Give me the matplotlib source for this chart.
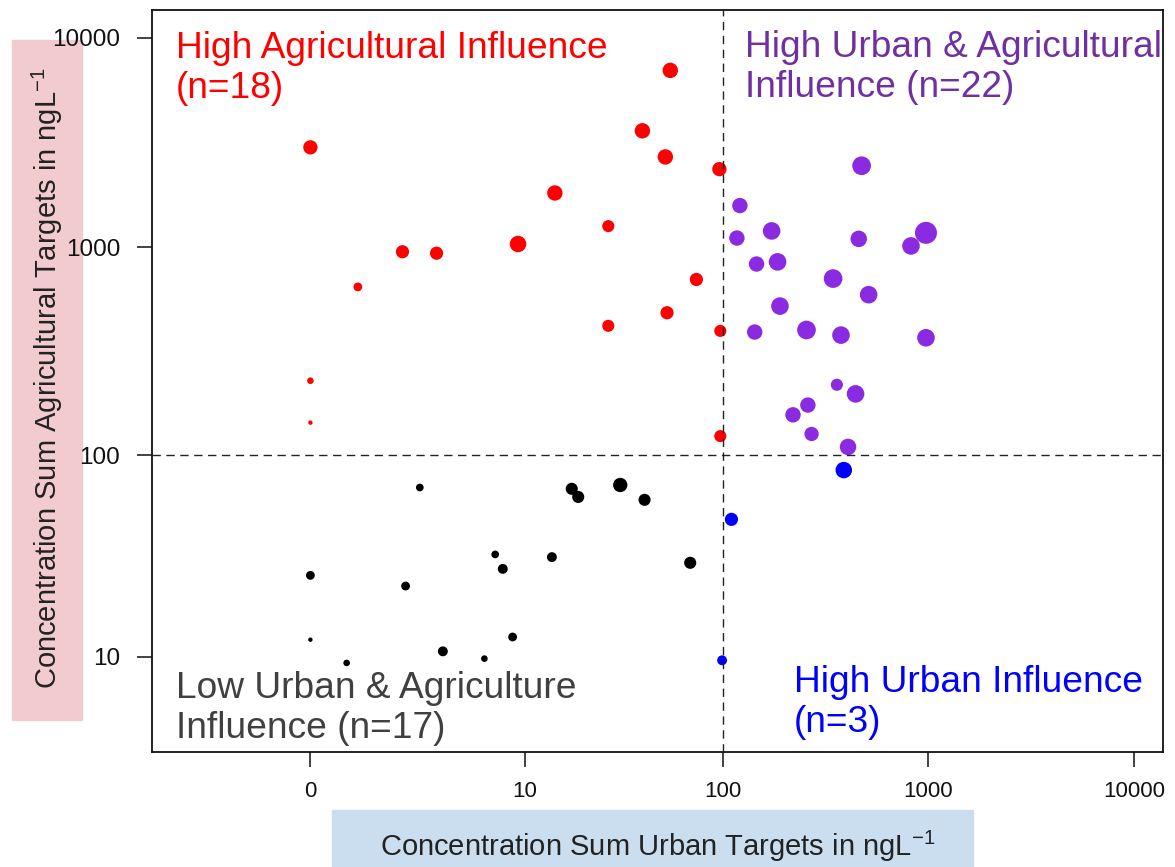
import numpy as np
import matplotlib
matplotlib.use('Agg')
import matplotlib.pyplot as plt
from matplotlib.patches import Rectangle
from matplotlib.ticker import FixedLocator, NullLocator

plt.rcParams['font.family'] = ['Liberation Sans', 'DejaVu Sans']
plt.rcParams['mathtext.fontset'] = 'custom'
plt.rcParams['mathtext.rm'] = 'Liberation Sans'
plt.rcParams['mathtext.it'] = 'Liberation Sans:italic'

# concentration sums per site (ng/L): urban targets, agricultural targets
# dot diameters in pixels

# high agricultural influence
agri_urban = [0, 0.7, 1.8, 3.1, 9.2, 14.4, 27, 40, 52, 55, 74, 27, 53, 96, 97, 97, 0, 0]
agri_agri = [3000, 645, 950, 935, 1035, 1815, 1260, 3600, 2700, 7000, 700, 420, 485, 2360, 397, 124, 229, 144]
agri_dot = [13, 8, 12, 12, 15, 14, 11, 14, 14, 14, 12, 11, 12, 13, 11, 11, 6, 4]

# high urban & agricultural influence
both_urban = [475, 121, 117, 173, 460, 977, 826, 146, 185, 345, 514,
              190, 143, 256, 377, 977, 360, 444, 260, 220, 271, 408]
both_agri = [2450, 1580, 1105, 1195, 1095, 1170, 1013, 830, 850, 707, 592,
             522, 392, 401, 379, 368, 219, 198, 175, 157, 127, 110]
both_dot = [17, 14, 14, 16, 15, 20, 16, 14, 16, 17, 16,
            16, 14, 17, 16, 16, 11, 16, 14, 14, 13, 15]

# high urban influence
urb_urban = [389, 110, 99]
urb_agri = [85, 49, 9.6]
urb_dot = [15, 12, 9]

# low urban & agriculture influence
low_urban = [2.4, 17.6, 19, 31, 41, 6.9, 7.6, 13.9, 69, 0, 1.9, 0, 0.5, 3.4, 6.0, 8.6]
low_agri = [70, 69, 63, 72, 61, 33, 28, 32, 30, 26, 23, 12.3, 9.3, 10.7, 9.8, 12.7]
low_dot = [7, 11, 11, 13, 11, 7, 9, 9, 11, 8, 8, 4, 6, 9, 6, 8]

ticks_x = [0, 10, 100, 1000, 10000]
ticks_y = [10, 100, 1000, 10000]
threshold = 100


def fwd(v):
    return np.log10(np.asarray(v, dtype=float) + 1)


def inv(u):
    return 10 ** np.asarray(u, dtype=float) - 1


def area(d):
    # pixel diameter -> scatter area in pt^2 (dpi 100)
    return (np.asarray(d) * 1.1 * 0.72) ** 2


fig = plt.figure(figsize=(11.75, 8.67), dpi=100)
W, H = 1175, 867

# axis titles sit on shaded boxes behind everything else
fig.patches.append(Rectangle((12 / W, 1 - 720 / H), 70 / W, 680 / H,
                             transform=fig.transFigure, color='#f2cbce', zorder=-5))
fig.patches.append(Rectangle((332 / W, 0), 641 / W, 57 / H,
                             transform=fig.transFigure, color='#cadef0', zorder=-5))

ax = fig.add_axes([152 / W, 1 - 752 / H, 1011 / W, 742 / H])
ax.set_facecolor('none')
ax.set_xscale('function', functions=(fwd, inv))
ax.set_yscale('function', functions=(fwd, inv))
ax.set_xlim(inv(-0.7695), inv(4.1418))
ax.set_ylim(inv(0.587), inv(4.1338))

ax.scatter(agri_urban, agri_agri, s=area(agri_dot), color='#ff0000', lw=0, zorder=3)
ax.scatter(both_urban, both_agri, s=area(both_dot), color='#8a2be2', lw=0, zorder=3)
ax.scatter(urb_urban, urb_agri, s=area(urb_dot), color='#0000ff', lw=0, zorder=3)
ax.scatter(low_urban, low_agri, s=area(low_dot), color='black', lw=0, zorder=3)

ax.axvline(threshold, color='#222222', lw=1.0, ls=(0, (6, 4)), zorder=4)
ax.axhline(threshold, color='#222222', lw=1.0, ls=(0, (6, 4)), zorder=4)

ax.xaxis.set_major_locator(FixedLocator(ticks_x))
ax.yaxis.set_major_locator(FixedLocator(ticks_y))
ax.xaxis.set_minor_locator(NullLocator())
ax.yaxis.set_minor_locator(NullLocator())
ax.set_xticklabels([str(t) for t in ticks_x], fontsize=16)
ax.set_yticklabels([str(t) for t in ticks_y], fontsize=17.5)
ax.tick_params(axis='x', length=11, width=1.1, pad=10, colors='#111111')
ax.tick_params(axis='y', length=11, width=1.1, pad=12, colors='#111111')
for sp in ax.spines.values():
    sp.set_linewidth(1.3)
    sp.set_color('#111111')

# quadrant labels, anchored at the baseline of their last line (pixels)
fs = 26.7
labels = [
    (176, 98, 'High Agricultural Influence\n(n=18)', '#ff0000'),
    (745, 97, 'High Urban & Agricultural\nInfluence (n=22)', '#7030a0'),
    (176, 738, 'Low Urban & Agriculture\nInfluence (n=17)', '#404040'),
    (794, 732, 'High Urban Influence\n(n=3)', '#0000ff'),
]
for px, py, txt, col in labels:
    ax.text((px - 152) / 1011, (752 - py) / 742, txt, color=col, fontsize=fs,
            transform=ax.transAxes, va='baseline', ha='left', linespacing=1.2)

fig.text(47 / W, 1 - 378 / H, 'Concentration Sum Agricultural Targets in ngL$^{-1}$',
         rotation=90, ha='center', va='center', fontsize=21, color='#222222')
fig.text(658 / W, 1 - 846 / H, 'Concentration Sum Urban Targets in ngL$^{-1}$',
         ha='center', va='center', fontsize=21, color='#222222')

fig.savefig('out.png', dpi=100)
